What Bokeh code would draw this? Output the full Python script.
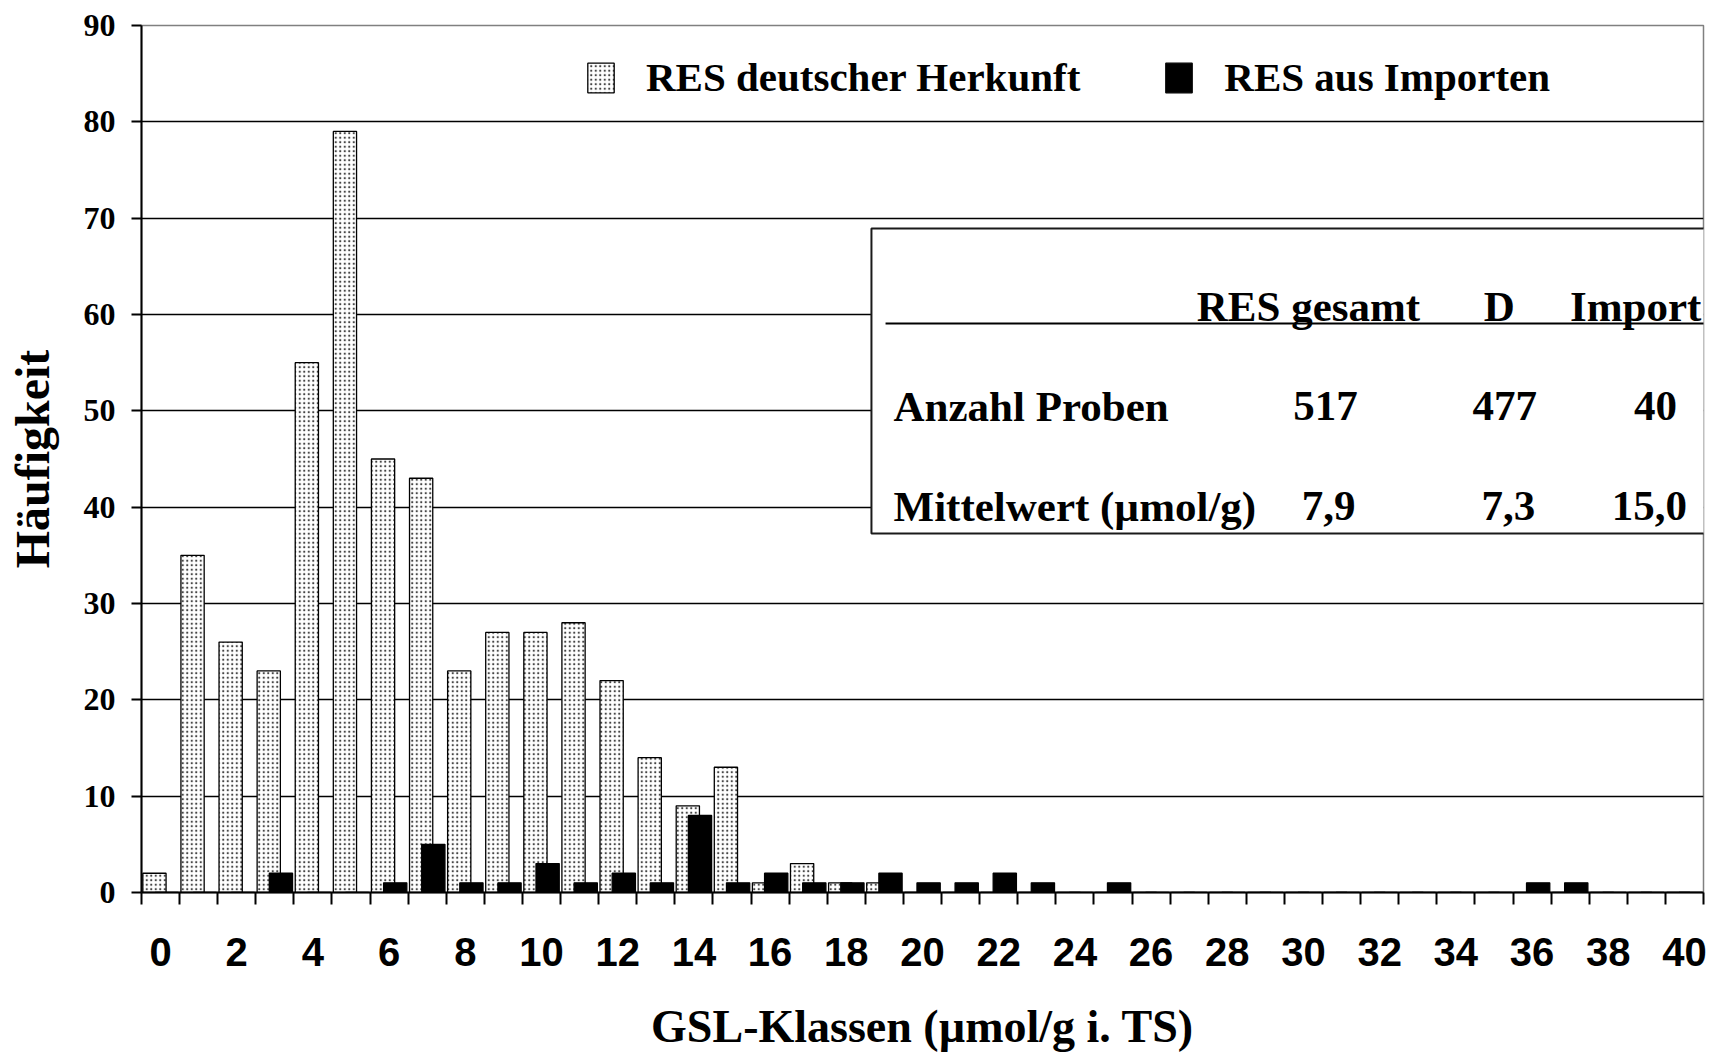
from bokeh.plotting import figure
from bokeh.models import (ColumnDataSource, FixedTicker, Legend, LegendItem,
                          BoxAnnotation, Label, Range1d, Arrow)
from bokeh.transform import dodge
from bokeh.embed import file_html
from bokeh.resources import INLINE

# ---------------- data ----------------
categories = list(range(41))
deutsch = [2, 35, 26, 23, 55, 79, 45, 43, 23, 27,
           27, 28, 22, 14, 9, 13, 1, 3, 1, 1,
           0, 0, 0, 0, 0, 0, 0, 0, 0, 0,
           0, 0, 0, 0, 0, 0, 0, 0, 0, 0, 0]
importe = [0, 0, 0, 2, 0, 0, 1, 5, 1, 1,
           3, 1, 2, 1, 8, 1, 2, 1, 1, 2,
           1, 1, 2, 1, 0, 1, 0, 0, 0, 0,
           0, 0, 0, 0, 0, 0, 1, 1, 0, 0, 0]
x_tick_values = list(range(0, 41, 2))
x_tick_labels = [str(v) for v in x_tick_values]
y_ticks = list(range(0, 91, 10))

series_names = ["RES deutscher Herkunft", "RES aus Importen"]
table_header = ["RES gesamt", "D", "Import"]
table_rows = ["Anzahl Proben", "Mittelwert (µmol/g)"]
table_values = [["517", "477", "40"], ["7,9", "7,3", "15,0"]]

SERIF = "Liberation Serif"
SANS = "Liberation Sans"

src = ColumnDataSource(dict(cat=categories, deutsch=deutsch, importe=importe))

p = figure(width=1724, height=1055,
           x_range=Range1d(-0.5, 40.5), y_range=Range1d(0, 90),
           output_backend="svg", toolbar_location=None,
           min_border_left=141, min_border_right=21,
           min_border_top=25, min_border_bottom=163)

p.background_fill_color = "white"
p.border_fill_color = "white"
p.outline_line_color = "#808080"
p.outline_line_width = 1.5

# bars
r1 = p.vbar(x=dodge("cat", -0.16, range=p.x_range), top="deutsch", width=0.61,
            source=src, fill_color="white", line_color="black", line_width=1.3,
            hatch_pattern="dot", hatch_scale=4.5, hatch_weight=1.8,
            hatch_color="#444444")
r2 = p.vbar(x=dodge("cat", 0.16, range=p.x_range), top="importe", width=0.61,
            source=src, fill_color="black", line_color="black", line_width=1.3)

# grid
p.xgrid.visible = False
p.ygrid.ticker = FixedTicker(ticks=y_ticks[1:-1])
p.ygrid.grid_line_color = "black"
p.ygrid.grid_line_width = 1.4

# y axis
ya = p.yaxis[0]
ya.ticker = FixedTicker(ticks=y_ticks)
ya.axis_line_color = "black"
ya.axis_line_width = 2
ya.major_tick_out = 10
ya.major_tick_in = 0
ya.major_tick_line_width = 2
ya.minor_tick_line_color = None
ya.major_label_standoff = 16
ya.major_label_text_font = SERIF
ya.major_label_text_font_style = "bold"
ya.major_label_text_font_size = "32px"
ya.major_label_text_color = "black"
ya.axis_label = "Häufigkeit"
ya.axis_label_text_font = SERIF
ya.axis_label_text_font_style = "bold"
ya.axis_label_text_font_size = "48px"
ya.axis_label_text_color = "black"
ya.axis_label_standoff = 22

# x axis
xa = p.xaxis[0]
xa.ticker = FixedTicker(ticks=x_tick_values,
                        minor_ticks=[c - 0.5 for c in categories] + [categories[-1] + 0.5])
xa.major_label_overrides = {v: l for v, l in zip(x_tick_values, x_tick_labels)}
xa.axis_line_color = "black"
xa.axis_line_width = 2
xa.major_tick_out = 0
xa.major_tick_in = 0
xa.minor_tick_out = 12
xa.minor_tick_in = 0
xa.minor_tick_line_color = "black"
xa.minor_tick_line_width = 2
xa.major_label_standoff = 33
xa.major_label_text_font = SANS
xa.major_label_text_font_style = "bold"
xa.major_label_text_font_size = "40px"
xa.major_label_text_color = "black"
xa.axis_label = "GSL-Klassen (µmol/g i. TS)"
xa.axis_label_text_font = SERIF
xa.axis_label_text_font_style = "bold"
xa.axis_label_text_font_size = "46px"
xa.axis_label_text_color = "black"
xa.axis_label_standoff = 32

# legend
legend = Legend(items=[LegendItem(label=series_names[0], renderers=[r1]),
                       LegendItem(label=series_names[1], renderers=[r2])],
                orientation="horizontal", location=(443, 791),
                glyph_width=33, glyph_height=37, label_height=37,
                label_standoff=29, spacing=82, padding=0, margin=0,
                border_line_alpha=0, background_fill_alpha=0,
                label_text_font=SERIF, label_text_font_style="bold",
                label_text_font_size="41px", label_text_color="black")
p.add_layout(legend)

# statistics table (annotation box)
box = BoxAnnotation(left=18.66, right=43, top=68.93, bottom=37.27,
                    fill_color="white", fill_alpha=1.0,
                    line_color="#1a1a1a", line_alpha=1.0, line_width=2)
p.add_layout(box)
underline = Arrow(end=None, x_start=19.03, y_start=59.07, x_end=43, y_end=59.07,
                  line_color="black", line_width=2)
p.add_layout(underline)

header_x = [30.13, 35.14, 38.72]
value_x = [[30.58, 35.28, 39.24], [30.66, 35.38, 39.08]]
header_y = 60.83
row_y = [50.45, 40.07]
row_label_x = 19.24

for txt, hx in zip(table_header, header_x):
    p.add_layout(Label(x=hx, y=header_y, text=txt, text_font=SERIF,
                       text_font_style="bold", text_font_size="43px",
                       text_align="center", text_baseline="middle",
                       text_color="black"))
for i, rl in enumerate(table_rows):
    p.add_layout(Label(x=row_label_x, y=row_y[i], text=rl, text_font=SERIF,
                       text_font_style="bold", text_font_size="43px",
                       text_align="left", text_baseline="middle",
                       text_color="black"))
    for j, v in enumerate(table_values[i]):
        p.add_layout(Label(x=value_x[i][j], y=row_y[i], text=v, text_font=SERIF,
                           text_font_style="bold", text_font_size="43px",
                           text_align="center", text_baseline="middle",
                           text_color="black"))

open("out.html", "w").write(file_html(p, INLINE))
